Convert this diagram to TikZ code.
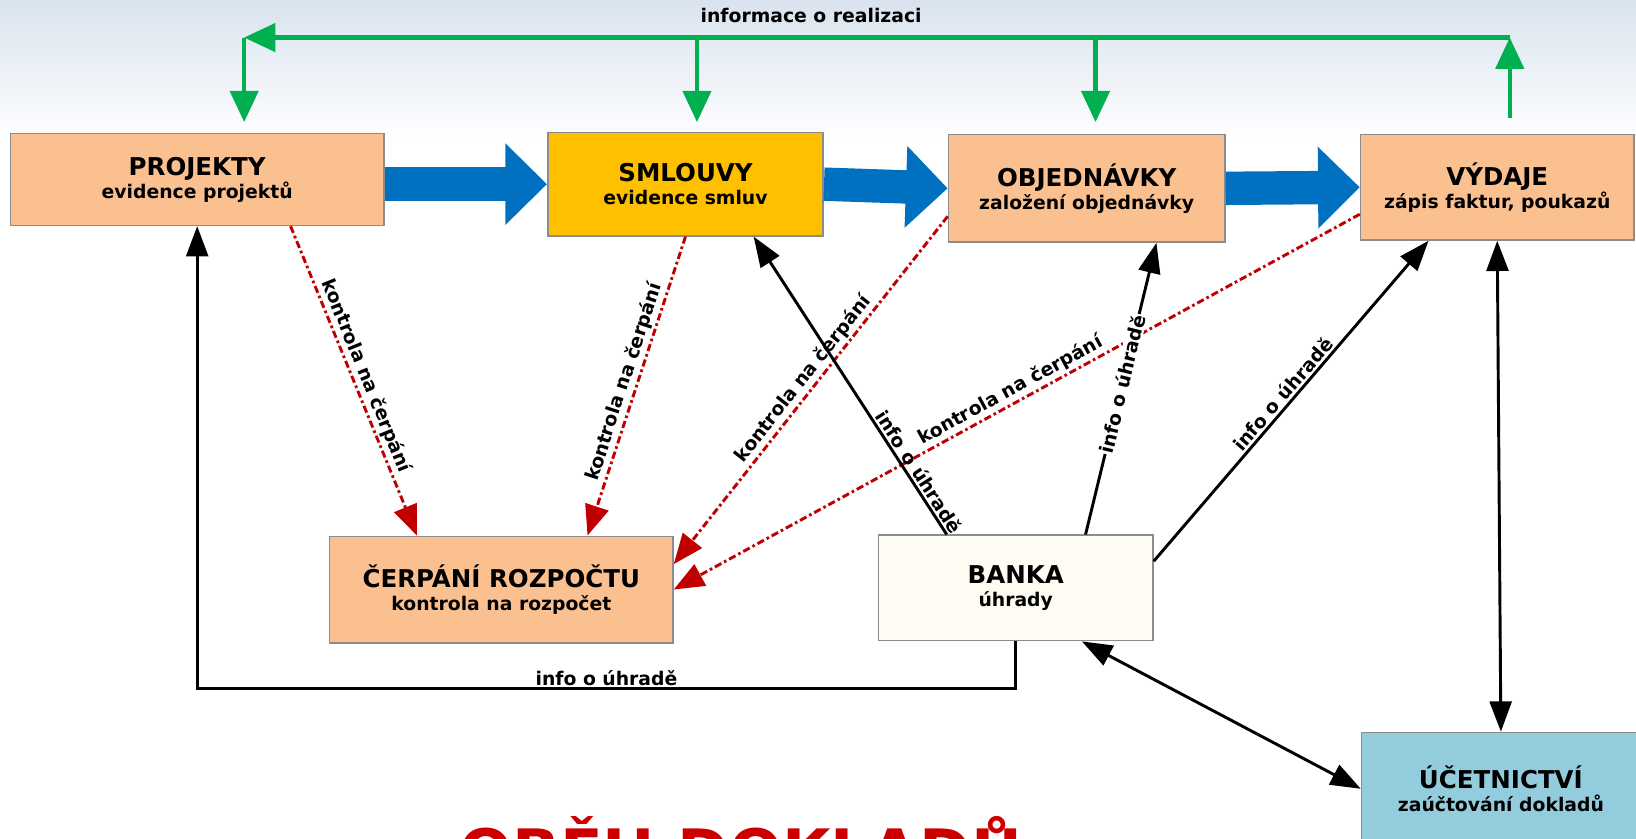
\documentclass[tikz,border=0pt]{standalone}
\usepackage{fontspec}
\setmainfont{DejaVu Sans}
\usetikzlibrary{arrows.meta,calc}
\definecolor{peach}{HTML}{FAC090}
\definecolor{gold}{HTML}{FFC000}
\definecolor{cream}{HTML}{FEFBF2}
\definecolor{aqua}{HTML}{93CDDD}
\definecolor{flowblue}{HTML}{0070C0}
\definecolor{infogreen}{HTML}{00B050}
\definecolor{ctrlred}{HTML}{C00000}
\definecolor{titlered}{HTML}{CC0000}
\definecolor{edgegray}{HTML}{8C8C8C}
\definecolor{bgtop}{HTML}{D9E3EE}
\newcommand\boxttl{\fontsize{23.5}{22}\selectfont\bfseries}
\newcommand\boxsub{\fontsize{18}{22}\selectfont\bfseries}
\newcommand\lblfont{\fontsize{18}{20}\selectfont\bfseries}
\begin{document}
\begin{tikzpicture}[x=1pt,y=-1pt,
  box/.style={draw=edgegray, line width=1.5pt, align=center, inner sep=0pt, font=\boxsub},
  flow/.style={draw=flowblue, line width=32pt, -{Triangle[width=76pt,length=40pt]}},
  info/.style={draw=infogreen, line width=4pt},
  infotip/.style={info, -{Triangle[width=27pt,length=30pt]}},
  ctrl/.style={draw=ctrlred, line width=2.8pt, dash pattern=on 7pt off 3pt on 2.5pt off 3pt, -{Triangle[width=23pt,length=29pt]}},
  pay/.style={draw=black, line width=2.8pt, -{Triangle[width=21pt,length=29pt]}},
  paytwo/.style={draw=black, line width=2.8pt, {Triangle[width=21pt,length=29pt]}-{Triangle[width=21pt,length=29pt]}},
  lbl/.style={font=\lblfont, text=black, inner sep=2pt}
]
\useasboundingbox (0,0) rectangle (1568,804);
\clip (0,0) rectangle (1568,804);
\fill[white] (0,0) rectangle (1568,804);
\shade[top color=bgtop, bottom color=white] (0,0) rectangle (1568,135);

% boxes
\node[box, fill=peach, minimum width=358pt, minimum height=88pt] (proj) at (189,172) {{\boxttl PROJEKTY}\\evidence projektů};
\node[box, fill=gold, minimum width=264pt, minimum height=99pt] (sml) at (657,176.5) {{\boxttl SMLOUVY}\\evidence smluv};
\node[box, fill=peach, minimum width=265pt, minimum height=103pt] (obj) at (1041.5,180.5) {{\boxttl OBJEDNÁVKY}\\založení objednávky};
\node[box, fill=peach, minimum width=262pt, minimum height=101pt] (vyd) at (1435,179.5) {{\boxttl VÝDAJE}\\zápis faktur, poukazů};
\node[box, fill=peach, minimum width=329pt, minimum height=102pt] (cerp) at (480.5,565) {{\boxttl ČERPÁNÍ ROZPOČTU}\\kontrola na rozpočet};
\node[box, fill=cream, minimum width=263pt, minimum height=101pt] (banka) at (973.5,563.5) {{\boxttl BANKA}\\úhrady};
\node[box, fill=aqua, minimum width=267pt, minimum height=108pt] (ucet) at (1438.5,756) {{\boxttl ÚČETNICTVÍ}\\zaúčtování dokladů};

% main flow
\draw[flow] (proj.east |- sml.west) -- (sml.west);
\draw[flow] (sml.east) -- (obj.west);
\draw[flow] (obj.east) -- (vyd.west);

% green information line
\coordinate (gL) at (234,36);
\coordinate (gR) at (1447,36);
\coordinate (gLd) at (234,117);
\coordinate (gS) at (668,36);
\coordinate (gSd) at (668,117);
\coordinate (gO) at (1050,36);
\coordinate (gOd) at (1050,117);
\coordinate (gV) at (1447,113);
\draw[infotip] (gV) -- (gR);
\draw[infotip] (gR) -- node[lbl, pos=0.552, above=12pt, inner sep=0pt] (inforeal) {informace o realizaci} (gL);
\draw[infotip] (gL) -- (gLd);
\draw[infotip] (gS) -- (gSd);
\draw[infotip] (gO) -- (gOd);

% control arrows
\draw[ctrl] ($(proj.south west)!0.749!(proj.south east)$) -- node[lbl, sloped, above, pos=0.5] {kontrola na čerpání} ($(cerp.north west)!0.255!(cerp.north east)$);
\draw[ctrl] (sml.south) -- node[lbl, sloped, above, pos=0.5] {kontrola na čerpání} ($(cerp.north west)!0.75!(cerp.north east)$);
\draw[ctrl] ($(obj.north west)!0.757!(obj.south west)$) -- node[lbl, sloped, above, pos=0.49] {kontrola na čerpání} ($(cerp.north east)!0.265!(cerp.south east)$);
\draw[ctrl] ($(vyd.north west)!0.752!(vyd.south west)$) -- node[lbl, sloped, above, pos=0.5] {kontrola na čerpání} (cerp.east);

% payment info arrows
\draw[pay] ($(banka.north west)!0.25!(banka.north east)$) -- node[lbl, sloped, above, pos=0.19] {info o úhradě} ($(sml.south west)!0.746!(sml.south east)$);
\draw[pay] ($(banka.north west)!0.753!(banka.north east)$) -- node[lbl, sloped, fill=white, inner sep=1pt, pos=0.516] {info o úhradě} ($(obj.south west)!0.751!(obj.south east)$);
\draw[pay] ($(banka.north east)!0.25!(banka.south east)$) -- node[lbl, sloped, above, pos=0.5] {info o úhradě} ($(vyd.south west)!0.25!(vyd.south east)$);
\draw[pay] (banka.south) -- ++(0,45) -| node[lbl, pos=0.25, above, inner sep=1pt] {info o úhradě} (proj.south);
\draw[paytwo] ($(banka.south west)!0.74!(banka.south east)$) -- (ucet.west);
\draw[paytwo] (vyd.south) -- (ucet.north);

% cut-off title
\node[anchor=base west, text=titlered, inner sep=0pt, font=\fontsize{60}{60}\selectfont\bfseries] (title) at (440,838) {OBĚH DOKLADŮ};
\end{tikzpicture}
\end{document}
